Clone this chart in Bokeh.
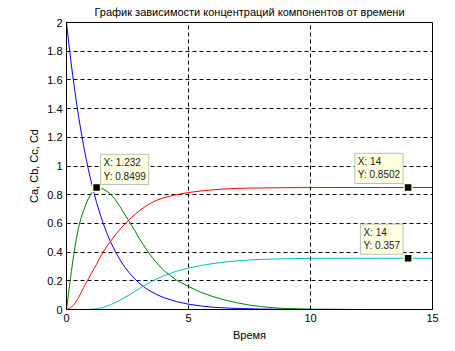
from bokeh.plotting import figure
from bokeh.models import Range1d, FixedTicker, Label, ColumnDataSource
from bokeh.embed import file_html
from bokeh.resources import INLINE

# ---- data ----
t = [0, 0.1, 0.2, 0.3, 0.4, 0.5, 0.6, 0.7, 0.8, 0.9, 1.0, 1.1, 1.232, 1.35, 1.5, 1.65,
     1.8, 2.0, 2.2, 2.4, 2.6, 2.8, 3.0, 3.25, 3.5, 3.75, 4.0, 4.5, 5.0, 5.5, 6.0, 6.5,
     7.0, 7.5, 8.0, 8.5, 9.0, 10, 11, 12, 13, 14, 15]
Ca = [2.0, 1.846, 1.704, 1.573, 1.452, 1.341, 1.238, 1.142, 1.055, 0.973, 0.899, 0.83,
      0.746, 0.679, 0.602, 0.534, 0.474, 0.404, 0.344, 0.293, 0.25, 0.213, 0.181, 0.148,
      0.122, 0.1, 0.082, 0.055, 0.037, 0.025, 0.016, 0.011, 0.007, 0.005, 0.003, 0.002,
      0.0015, 0.0007, 0.0003, 0.0001, 0, 0, 0]
Cb = [0, 0.135, 0.265, 0.385, 0.49, 0.575, 0.64, 0.69, 0.735, 0.775, 0.805, 0.83,
      0.8499, 0.848, 0.84, 0.825, 0.805, 0.765, 0.715, 0.66, 0.605, 0.55, 0.49, 0.425,
      0.365, 0.315, 0.27, 0.205, 0.16, 0.12, 0.09, 0.066, 0.046, 0.031, 0.02, 0.012,
      0.007, 0.002, 0.001, 0, 0, 0, 0]
Cc = [0, 0.006, 0.017, 0.032, 0.056, 0.085, 0.118, 0.152, 0.184, 0.215, 0.245, 0.275,
      0.315, 0.355, 0.4, 0.438, 0.474, 0.52, 0.56, 0.598, 0.632, 0.662, 0.69, 0.72,
      0.745, 0.765, 0.78, 0.8, 0.815, 0.826, 0.834, 0.84, 0.844, 0.846, 0.847, 0.848,
      0.849, 0.8497, 0.85, 0.8501, 0.8502, 0.8502, 0.8502]
Cd = [0, 0, 0, 0, 0, 0, 0, 0, 0, 0.001, 0.002, 0.003, 0.005, 0.009, 0.015, 0.023,
      0.033, 0.048, 0.066, 0.085, 0.105, 0.126, 0.147, 0.172, 0.196, 0.217, 0.236, 0.266,
      0.289, 0.306, 0.32, 0.331, 0.339, 0.345, 0.349, 0.352, 0.354, 0.356, 0.357, 0.357,
      0.357, 0.357, 0.357]

tip_x = [1.232, 14, 14]
tip_y = [0.8499, 0.8502, 0.357]
tip_text = ["X: 1.232\nY: 0.8499", "X: 14\nY: 0.8502", "X: 14\nY: 0.357"]

x_ticks = [0, 5, 10, 15]
x_tick_labels = ["0", "5", "10", "15"]
y_ticks = [0, 0.2, 0.4, 0.6, 0.8, 1.0, 1.2, 1.4, 1.6, 1.8, 2.0]
y_tick_labels = ["0", "0.2", "0.4", "0.6", "0.8", "1", "1.2", "1.4", "1.6", "1.8", "2"]

title = "График зависимости концентраций компонентов от времени"
x_label = "Время"
y_label = "Ca, Cb, Cc, Cd"

FONT = "Liberation Sans"

p = figure(width=455, height=351, output_backend="svg", toolbar_location=None,
           x_range=Range1d(0, 15), y_range=Range1d(0, 2),
           min_border_left=66, min_border_right=23, min_border_top=22, min_border_bottom=42)

p.title.text = title
p.title.align = "center"
p.title.vertical_align = "top"
p.title.text_font = FONT
p.title.text_font_size = "11px"
p.title.text_font_style = "normal"
p.title.text_color = "black"
p.title.standoff = 5

p.outline_line_color = "black"
p.outline_line_alpha = 1
p.outline_line_width = 1
p.background_fill_color = "white"
p.border_fill_color = "white"

for ax, ticks, labels in ((p.xaxis[0], x_ticks, x_tick_labels), (p.yaxis[0], y_ticks, y_tick_labels)):
    ax.ticker = FixedTicker(ticks=ticks)
    ax.major_label_overrides = {tk: lb for tk, lb in zip(ticks, labels)}
    ax.major_label_text_font = FONT
    ax.major_label_text_font_size = "11px"
    ax.major_label_text_color = "black"
    ax.axis_label_text_font = FONT
    ax.axis_label_text_font_size = "11px"
    ax.axis_label_text_font_style = "normal"
    ax.axis_label_text_color = "black"
    ax.axis_line_color = "black"
    ax.major_tick_in = 4
    ax.major_tick_out = 0
    ax.major_tick_line_color = "black"
    ax.minor_tick_line_color = None
    ax.major_label_standoff = 4
    ax.axis_label_standoff = 4

p.xaxis.axis_label = x_label
p.yaxis.axis_label = y_label

p.xgrid.ticker = FixedTicker(ticks=x_ticks)
p.ygrid.ticker = FixedTicker(ticks=y_ticks)
for g in (p.xgrid, p.ygrid):
    g.grid_line_color = "black"
    g.grid_line_alpha = 1
    g.grid_line_width = 1
    g.grid_line_dash = "4 3"

src = ColumnDataSource(dict(t=t, Ca=Ca, Cb=Cb, Cc=Cc, Cd=Cd))
p.line("t", "Ca", source=src, line_color="#0000FF", line_width=1)
p.line("t", "Cb", source=src, line_color="#008000", line_width=1)
p.line("t", "Cc", source=src, line_color="#FF0000", line_width=1)
p.line("t", "Cd", source=src, line_color="#00BFBF", line_width=1)

p.scatter(tip_x, tip_y, marker="square", size=8, fill_color="black",
          line_color="#FFFFD8", line_width=1.5)

anchors = ["bottom_left", "bottom_right", "bottom_right"]
offsets = [(4, 3), (-5, 4), (-5, 4)]
for x, y, txt, anc, (dx, dy) in zip(tip_x, tip_y, tip_text, anchors, offsets):
    p.add_layout(Label(x=x, y=y, text=txt, anchor=anc, x_offset=dx, y_offset=dy,
                       text_font=FONT, text_font_size="10px", text_color="#222222",
                       background_fill_color="#FFFFE1", border_line_color="#BEBEBE",
                       border_line_width=1, padding=3))

open("out.html", "w").write(file_html(p, INLINE))
